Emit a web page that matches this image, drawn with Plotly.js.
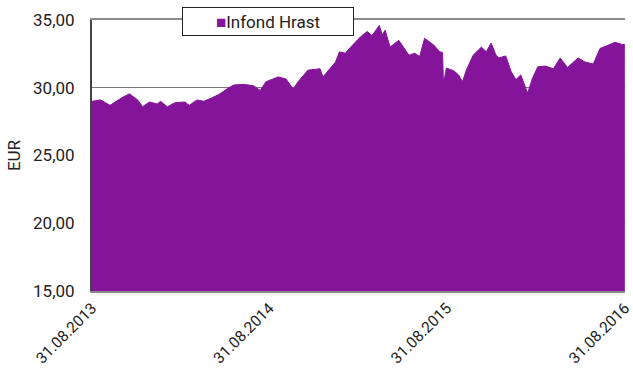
<!DOCTYPE html>
<html><head><meta charset="utf-8">
<script src="https://cdn.plot.ly/plotly-3.0.1.min.js"></script>
<style>body{margin:0;background:#fff}#c{width:633px;height:374px}</style>
</head><body><div id="c"></div>
<script>
const seriesName = "Infond Hrast";
const dates = ["2013-08-31","2013-09-18","2013-10-07","2013-10-19","2013-11-02","2013-11-16","2013-12-03","2013-12-13","2013-12-27","2014-01-12","2014-01-19","2014-02-02","2014-02-18","2014-03-10","2014-03-19","2014-04-04","2014-04-18","2014-05-04","2014-05-19","2014-06-04","2014-06-18","2014-07-09","2014-07-29","2014-08-12","2014-08-24","2014-09-18","2014-10-04","2014-10-19","2014-10-29","2014-11-18","2014-12-13","2014-12-19","2015-01-02","2015-01-14","2015-01-22","2015-02-03","2015-02-22","2015-03-06","2015-03-20","2015-03-30","2015-04-14","2015-04-20","2015-04-26","2015-05-06","2015-05-24","2015-06-04","2015-06-14","2015-06-26","2015-07-06","2015-07-16","2015-08-04","2015-08-16","2015-08-22","2015-08-24","2015-08-30","2015-09-14","2015-09-24","2015-10-02","2015-10-10","2015-10-24","2015-11-10","2015-11-20","2015-11-30","2015-12-10","2015-12-16","2015-12-30","2016-01-10","2016-01-20","2016-01-30","2016-02-13","2016-02-23","2016-03-05","2016-03-21","2016-04-06","2016-04-20","2016-05-05","2016-05-27","2016-06-10","2016-06-27","2016-07-11","2016-08-11","2016-08-25","2016-08-31"];
const values = [29.0,29.1,28.7,29.0,29.3,29.55,29.1,28.6,28.95,28.8,29.0,28.6,28.9,28.95,28.7,29.1,29.0,29.25,29.5,29.9,30.2,30.25,30.15,29.8,30.45,30.8,30.65,29.9,30.45,31.3,31.4,30.8,31.4,31.9,32.65,32.55,33.3,33.75,34.15,33.85,34.6,33.9,34.25,33.0,33.5,32.9,32.4,32.55,32.3,33.65,33.15,32.65,32.6,30.3,31.45,31.25,30.95,30.45,31.3,32.4,33.0,32.65,33.3,32.4,32.2,32.35,31.2,30.6,30.95,29.6,30.7,31.55,31.6,31.4,32.2,31.5,32.2,31.9,31.75,32.9,33.35,33.2,33.2];
const tickDates = ["2013-08-31","2014-08-31","2015-08-31","2016-08-31"];
const tickLabels = ["31.08.2013","31.08.2014","31.08.2015","31.08.2016"];
const yTicks = [15,20,25,30,35];

const purple = "#84149a";
Plotly.newPlot("c", [{
  x: dates, y: values, type: "scatter", mode: "lines", name: seriesName,
  fill: "tozeroy", fillcolor: purple, line: {color: purple, width: 1}, showlegend: false
}], {
  width: 633, height: 374,
  margin: {l: 92, r: 8, t: 20, b: 83},
  paper_bgcolor: "#fff", plot_bgcolor: "#fff",
  separators: ",.",
  font: {family: "Roboto, sans-serif", size: 17, color: "#222"},
  showlegend: false,
  annotations: [{
    xref: "paper", yref: "paper", x: 0.169, y: 1.048, xanchor: "left", yanchor: "top",
    text: "<span style='color:" + purple + "'>■</span>" + seriesName,
    showarrow: false, align: "center", width: 164, height: 21, borderpad: 3,
    bordercolor: "#222", borderwidth: 1, bgcolor: "#fff", font: {size: 17, color: "#222"}
  }],
  xaxis: {type: "date", range: ["2013-08-31","2016-08-31 08:00"], tickvals: tickDates, ticktext: tickLabels,
    tickangle: -45, ticklabeloverflow: "allow", tickfont: {size: 15.5}, showgrid: false, showline: true,
    linecolor: "#8a8a8a", linewidth: 2, mirror: true, ticks: "", zeroline: false},
  yaxis: {range: [15,35], tickvals: yTicks, tickformat: ".2f", showgrid: true, gridcolor: "#777", gridwidth: 1,
    showline: true, linecolor: "#444", linewidth: 2, zeroline: false, ticks: "", ticklabelstandoff: 12,
    title: {text: "EUR", standoff: 8, font: {size: 17}}}
}, {displayModeBar: false});
</script></body></html>
